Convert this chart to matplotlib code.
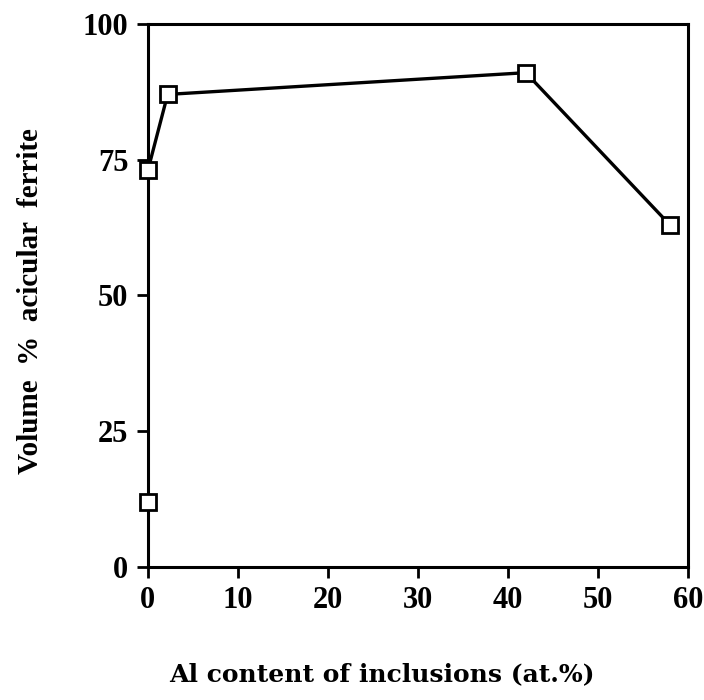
import matplotlib.pyplot as plt

# Al content of inclusions (at.%) vs volume % acicular ferrite
al_content = [0.0, 2.2, 42.0, 58.0]
acicular = [73, 87, 91, 63]
# separate measurement with no Al, drawn without a connecting line
al_single = [0.0]
acicular_single = [12]

x_ticks = [0, 10, 20, 30, 40, 50, 60]
y_ticks = [0, 25, 50, 75, 100]

plt.rcParams['font.family'] = ['Liberation Serif', 'DejaVu Serif']
plt.rcParams['font.weight'] = 'bold'

fig = plt.figure(figsize=(7.04, 7.0), dpi=100)
ax = fig.add_axes([0.21, 0.19, 0.767, 0.776])

mk = dict(marker='s', markersize=12, markerfacecolor='white',
          markeredgecolor='black', markeredgewidth=2.0, clip_on=False)
ax.plot(al_content, acicular, color='black', linewidth=2.4, **mk, zorder=3)
ax.plot(al_single, acicular_single, linestyle='none', **mk, zorder=3)

ax.set_xlim(0, 60)
ax.set_ylim(0, 100)
ax.set_xticks(x_ticks)
ax.set_yticks(y_ticks)
for s in ax.spines.values():
    s.set_linewidth(2.2)
    s.set_zorder(2)
ax.tick_params(direction='out', length=8, width=2, labelsize=22, pad=6)
for lbl in ax.get_xticklabels() + ax.get_yticklabels():
    lbl.set_fontweight('bold')

ax.set_xlabel('Al content of inclusions (at.%)', fontsize=18,
              fontweight='bold', family=['DejaVu Serif'])
ax.xaxis.set_label_coords(0.433, -0.175)
ax.set_ylabel('Volume  %  acicular  ferrite', fontsize=21,
              fontweight='bold', va='center', ha='center')
ax.yaxis.set_label_coords(-0.218, 0.49)

plt.savefig('out.png', dpi=100)
